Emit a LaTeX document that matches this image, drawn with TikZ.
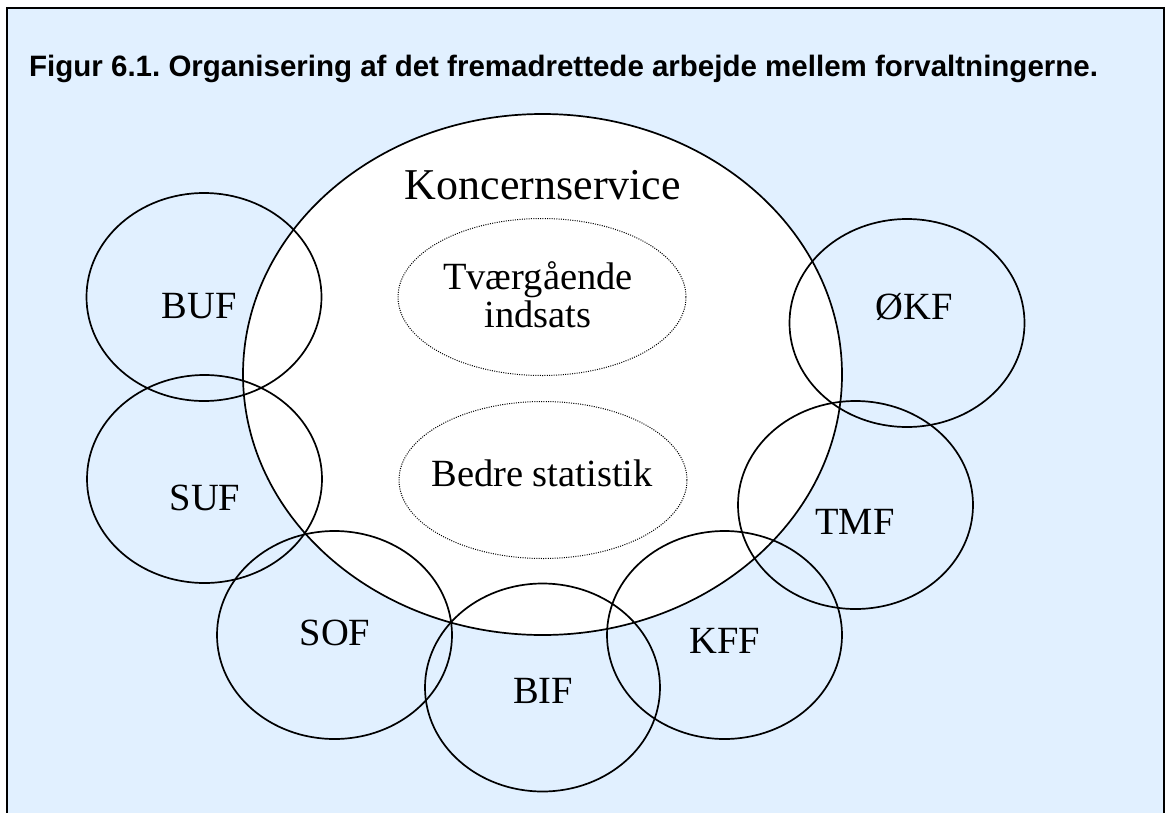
\documentclass[tikz,border=0pt]{standalone}
\usepackage{fontspec}
\setmainfont{Liberation Serif}
\newfontfamily\arialfont{Liberation Sans}
\usetikzlibrary{shapes.geometric}
\definecolor{panelblue}{RGB}{225,240,255}
\frenchspacing
\begin{document}
\begin{tikzpicture}[x=1pt,y=-1pt,
  unit/.style={draw=black, line width=1.7pt, ellipse, inner sep=0pt,
    minimum width=235pt, minimum height=208pt},
  topic/.style={draw=black, line width=1pt, dash pattern=on 1pt off 1.3pt,
    ellipse, inner sep=0pt, minimum width=288pt, minimum height=157pt},
  lbl/.style={anchor=base, inner sep=0pt, font=\fontsize{38.5}{37}\selectfont},
]
\useasboundingbox (0,0) rectangle (1171,812);
\fill[white] (0,0) rectangle (1171,812);
\draw[line width=1.8pt, fill=panelblue] (7,8) rectangle (1164,830);
\node[anchor=base west, inner sep=0pt, font=\arialfont\bfseries\fontsize{29.5}{34}\selectfont] (title) at (29,76)
  {Figur 6.1. Organisering af det fremadrettede arbejde mellem forvaltningerne.};
% big ellipse
\node[draw=black, fill=white, line width=1.7pt, ellipse, inner sep=0pt,
  minimum width=599pt, minimum height=521pt] (ks) at (542.5,374.5) {};
\node[anchor=base, inner sep=0pt, font=\fontsize{44}{48}\selectfont] (kstext) at (543,199) {Koncernservice};
% inner topics
\node[topic] (tv) at (542,297) {};
\node[anchor=base, inner sep=0pt, align=center, font=\fontsize{38.5}{38}\selectfont] (tvtext) at (538,327) {Tværgående\\indsats};
\node[topic] (bs) at (543,480) {};
\node[lbl] (bstext) at (542,486) {Bedre statistik};
% units
\node[unit] (buf) at (204,297) {};
\node[unit] (suf) at (204.5,479) {};
\node[unit] (okf) at (907,323) {};
\node[unit] (tmf) at (855.5,505) {};
\node[unit] (sof) at (334.5,635) {};
\node[unit] (bif) at (542.5,687.5) {};
\node[unit] (kff) at (724.5,635) {};
\node[lbl] (buftext) at (199,318) {BUF};
\node[lbl] (suftext) at (205,510) {SUF};
\node[lbl] (okftext) at (914,319) {ØKF};
\node[lbl] (tmftext) at (855,534) {TMF};
\node[lbl] (softext) at (335,645) {SOF};
\node[lbl] (biftext) at (543,703) {BIF};
\node[lbl] (kfftext) at (725,653) {KFF};
\end{tikzpicture}
\end{document}
